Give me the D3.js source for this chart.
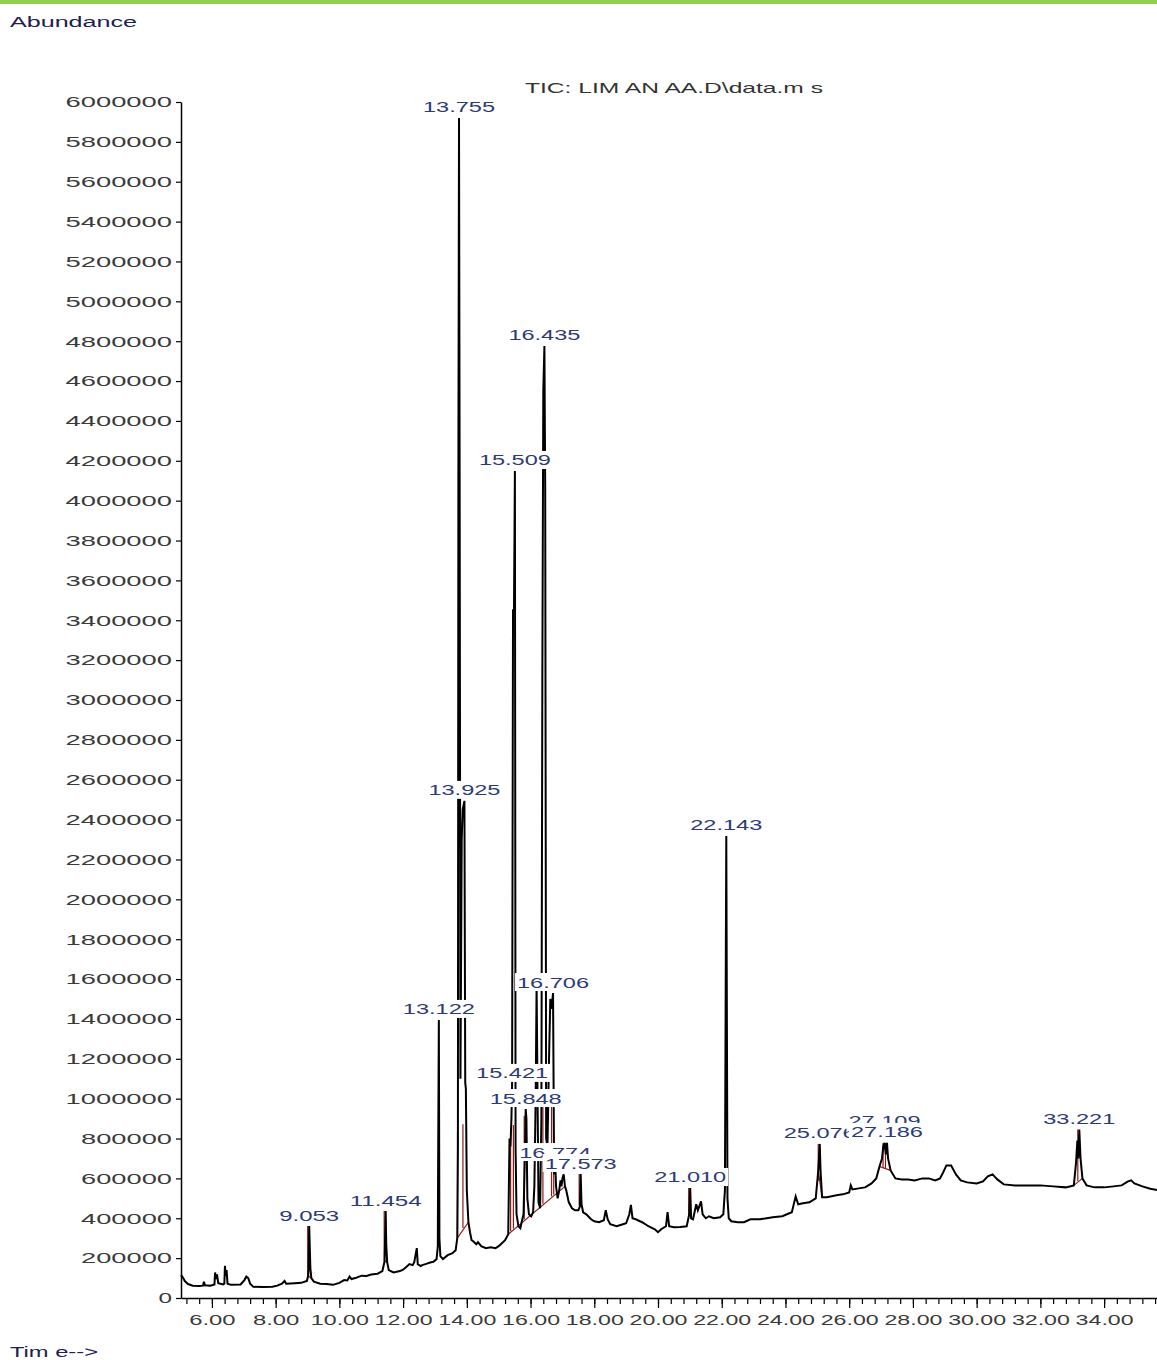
<!DOCTYPE html>
<html>
<head>
<meta charset="utf-8">
<script src="https://cdn.jsdelivr.net/npm/d3@7"></script>
<style>
  html, body { margin: 0; padding: 0; background: #fff; }
  svg { display: block; }
  text { font-family: "Liberation Sans", Arial, sans-serif; }
</style>
</head>
<body>
<svg id="chart" width="1157" height="1360"></svg>
<script>
// Total ion chromatogram: retention time (min) and abundance (counts)
const retentionTime = [
  5.03, 5.08, 5.15, 5.25, 5.4, 5.6, 5.72, 5.75, 5.78, 5.95, 6.08, 6.10, 6.13, 6.16, 6.2, 6.35, 6.39, 6.41, 6.43, 6.46, 6.49,
  6.6, 6.9, 7.02, 7.08, 7.14, 7.2, 7.3, 7.6, 7.9, 8.05, 8.2, 8.28, 8.33, 8.6, 8.8, 8.98,
  9.02, 9.035, 9.053, 9.07, 9.09, 9.12, 9.2, 9.4, 9.6, 9.8, 10.0, 10.15, 10.25, 10.32, 10.38, 10.5, 10.7, 10.85, 11.0, 11.2, 11.35,
  11.42, 11.454, 11.47, 11.5, 11.55, 11.7, 11.9, 12.0, 12.1, 12.2, 12.3, 12.35, 12.43, 12.46, 12.55, 12.6, 12.7, 12.85, 12.95, 13.05,
  13.09, 13.10, 13.122, 13.14, 13.17, 13.25, 13.4, 13.55, 13.65, 13.70,
  13.72, 13.735, 13.755, 13.775, 13.80, 13.84, 13.87, 13.925, 13.95, 13.97, 14.0, 14.05, 14.1, 14.15, 14.2, 14.3, 14.35, 14.45,
  14.6, 14.75, 14.9, 15.0, 15.1, 15.2, 15.30,
  15.34, 15.37, 15.40, 15.421, 15.45, 15.48, 15.509, 15.53, 15.56, 15.62, 15.68, 15.72, 15.78, 15.82, 15.848, 15.87, 15.9, 15.95,
  16.02, 16.08, 16.12, 16.16, 16.19, 16.22, 16.25, 16.30, 16.34, 16.37, 16.40, 16.435, 16.46, 16.49, 16.53, 16.58, 16.62, 16.66,
  16.706, 16.74, 16.774, 16.80, 16.85, 16.90, 16.94, 16.97, 17.0, 17.04, 17.08, 17.12, 17.2, 17.3, 17.4, 17.5, 17.55, 17.573,
  17.60, 17.65, 17.75, 17.9, 18.0, 18.15, 18.3, 18.36, 18.42, 18.5, 18.7, 18.9, 19.0, 19.1, 19.15, 19.2, 19.3, 19.5, 19.7, 19.9,
  20.0, 20.1, 20.25, 20.3, 20.35, 20.5, 20.7, 20.9, 20.98, 21.010, 21.04, 21.1, 21.2, 21.25, 21.35, 21.4, 21.5, 21.6, 21.75, 21.95,
  22.05, 22.10, 22.143, 22.18, 22.22, 22.3, 22.5, 22.7, 22.9, 23.2, 23.6, 23.9, 24.2, 24.32, 24.4, 24.55, 24.75, 24.95, 25.03,
  25.076, 25.10, 25.15, 25.3, 25.6, 25.8, 26.0, 26.05, 26.1, 26.3, 26.5, 26.7, 26.85, 26.95, 27.03, 27.07, 27.109, 27.15, 27.186,
  27.22, 27.3, 27.45, 27.65, 27.85, 28.05, 28.3, 28.5, 28.7, 28.85, 28.95, 29.05, 29.2, 29.35, 29.5, 29.7, 30.0, 30.2, 30.35, 30.5,
  30.65, 30.85, 31.2, 31.6, 32.0, 32.4, 32.8, 33.05, 33.12, 33.16, 33.19, 33.221, 33.26, 33.32, 33.45, 33.7, 34.0, 34.3, 34.55,
  34.75, 34.85, 34.95, 35.2, 35.45, 35.66
];
const abundance = [
  115000, 105000, 85000, 70000, 62000, 60000, 62000, 82000, 64000, 62000, 68000, 128000, 95000, 118000, 74000, 68000, 72000, 162000, 110000, 140000, 72000,
  66000, 68000, 90000, 108000, 100000, 72000, 56000, 55000, 56000, 62000, 72000, 86000, 72000, 74000, 76000, 85000,
  110000, 150000, 361000, 265000, 150000, 100000, 82000, 72000, 70000, 66000, 76000, 90000, 88000, 108000, 95000, 100000, 112000, 110000, 118000, 122000, 135000,
  185000, 436000, 275000, 180000, 140000, 128000, 135000, 142000, 155000, 170000, 165000, 180000, 250000, 170000, 160000, 165000, 170000, 178000, 182000, 195000,
  260000, 690000, 1395000, 300000, 210000, 195000, 215000, 225000, 240000, 300000,
  750000, 4100000, 5920000, 4100000, 1100000, 2300000, 2450000, 2494000, 1080000, 1050000, 540000, 380000, 330000, 290000, 285000, 270000, 280000, 260000,
  250000, 255000, 250000, 260000, 275000, 290000, 320000,
  800000, 760000, 900000, 1074000, 3450000, 3450000, 4149000, 750000, 420000, 360000, 350000, 380000, 420000, 700000, 948000, 900000, 500000, 420000,
  410000, 430000, 560000, 1000000, 1570000, 1000000, 480000, 450000, 900000, 3100000, 4550000, 4776000, 4050000, 800000, 760000, 1200000, 1500000, 1450000,
  1530000, 620000, 677000, 560000, 500000, 540000, 590000, 560000, 600000, 620000, 560000, 540000, 480000, 450000, 440000, 440000, 460000, 622000,
  470000, 430000, 420000, 395000, 385000, 380000, 390000, 440000, 395000, 370000, 360000, 370000, 375000, 420000, 467000, 400000, 395000, 380000, 360000, 345000,
  330000, 345000, 360000, 431000, 360000, 355000, 356000, 360000, 420000, 552000, 400000, 395000, 470000, 440000, 485000, 420000, 400000, 410000, 400000, 405000,
  420000, 540000, 2318000, 500000, 400000, 385000, 380000, 380000, 395000, 395000, 405000, 410000, 430000, 510000, 470000, 475000, 480000, 500000, 640000,
  773000, 640000, 505000, 505000, 515000, 520000, 530000, 565000, 545000, 550000, 555000, 575000, 600000, 660000, 700000, 760000, 778000, 720000, 778000,
  700000, 640000, 600000, 595000, 595000, 590000, 600000, 600000, 590000, 600000, 630000, 665000, 665000, 620000, 590000, 580000, 575000, 585000, 610000, 620000,
  595000, 570000, 565000, 565000, 565000, 560000, 555000, 565000, 680000, 790000, 700000, 845000, 700000, 600000, 565000, 555000, 555000, 560000, 565000,
  585000, 590000, 575000, 560000, 548000, 542000
];

// Labelled peaks (apex retention times)
const peakLabels = ["9.053", "11.454", "13.122", "13.755", "13.925", "15.421", "15.509", "15.848", "16.435",
  "16.706", "16.774", "17.573", "21.010", "22.143", "25.076", "27.109", "27.186", "33.221"];

// Integration windows [start, end] in minutes
const integrationStart = [9.02, 11.42, 13.70, 15.30, 17.55, 20.98, 25.03, 26.95, 33.05];
const integrationEnd   = [9.12, 11.50, 14.05, 17.08, 17.60, 21.04, 25.15, 27.30, 33.32];

// Axis ticks
const yTicks = d3.range(0, 6000001, 200000);
const xMajorTicks = d3.range(6, 34.001, 2);
const xMinorTicks = d3.range(5.2, 35.66, 0.4);
const title = "TIC: LIM AN AA.D\\data.m s";

const svg = d3.select("#chart");
const W = 1157;

const x = d3.scaleLinear().domain([5.03, 35.66]).range([181, 1157]);
const y = d3.scaleLinear().domain([0, 6000000]).range([1298, 102]);

const data = retentionTime.map((t, i) => ({ t, a: abundance[i] }));
const valueAt = t => {
  const i = d3.bisector(d => d.t).left(data, t);
  if (i <= 0) return data[0].a;
  if (i >= data.length) return data[data.length - 1].a;
  const p = data[i - 1], q = data[i];
  return p.a + (q.a - p.a) * (t - p.t) / (q.t - p.t);
};

// green strip along the top edge
svg.append("rect").attr("x", 0).attr("y", 0).attr("width", W).attr("height", 4).attr("fill", "#8fd14f");

const labelInk = "#2c3a78";
const axisInk = "#3a3a3a";

svg.append("text").attr("x", 10).attr("y", 27)
  .attr("font-size", 14).attr("fill", "#1e2050")
  .attr("textLength", 127).attr("lengthAdjust", "spacingAndGlyphs")
  .text("Abundance");

svg.append("text").attr("x", 10).attr("y", 1357)
  .attr("font-size", 14).attr("fill", "#1e2050")
  .attr("textLength", 88).attr("lengthAdjust", "spacingAndGlyphs")
  .text("Tim e-->");

svg.append("text").attr("x", 674).attr("y", 93)
  .attr("text-anchor", "middle").attr("font-size", 15).attr("fill", "#333")
  .attr("textLength", 298).attr("lengthAdjust", "spacingAndGlyphs")
  .text(title);

// Y axis
const yAxis = svg.append("g").attr("transform", "translate(181,0)")
  .call(d3.axisLeft(y).tickValues(yTicks).tickSize(5).tickSizeOuter(0).tickPadding(4).tickFormat(d3.format("d")));
yAxis.select(".domain").attr("stroke", "#000").attr("stroke-width", 1.5);
yAxis.selectAll(".tick line").attr("stroke", "#000").attr("stroke-width", 1.2);
yAxis.selectAll(".tick text")
  .attr("font-size", 15).attr("fill", axisInk).attr("font-family", "Liberation Sans, Arial, sans-serif")
  .attr("lengthAdjust", "spacingAndGlyphs")
  .attr("textLength", function () { return this.textContent.length * 15.5 - 2; });

// X axis: minor then major ticks
const xMinor = svg.append("g").attr("transform", "translate(0,1298)")
  .call(d3.axisBottom(x).tickValues(xMinorTicks).tickSize(6).tickSizeOuter(0).tickFormat(""));
xMinor.selectAll(".tick line").attr("stroke", "#000").attr("stroke-width", 1.2);
xMinor.select(".domain").attr("stroke", "#000").attr("stroke-width", 1.5);

const xMajor = svg.append("g").attr("transform", "translate(0,1298)")
  .call(d3.axisBottom(x).tickValues(xMajorTicks).tickSize(10).tickSizeOuter(0).tickPadding(6).tickFormat(d3.format(".2f")));
xMajor.select(".domain").remove();
xMajor.selectAll(".tick line").attr("stroke", "#000").attr("stroke-width", 1.2);
xMajor.selectAll(".tick text")
  .attr("font-size", 15).attr("fill", axisInk).attr("font-family", "Liberation Sans, Arial, sans-serif")
  .attr("lengthAdjust", "spacingAndGlyphs")
  .attr("textLength", function () { return this.textContent.length * 11.6; });

// integration baselines and drop lines
const integ = svg.append("g").attr("stroke", "#8a1c1c").attr("stroke-width", 1.2).attr("fill", "none");
integrationStart.forEach((s, i) => {
  const e = integrationEnd[i];
  const as = valueAt(s), ae = valueAt(e);
  integ.append("line").attr("x1", x(s)).attr("y1", y(as)).attr("x2", x(e)).attr("y2", y(ae));
  // drop lines under each peak apex inside the window
  peakLabels.map(Number).filter(p => p > s && p < e).forEach(p => {
    const base = as + (ae - as) * (p - s) / (e - s);
    const top = Math.min(valueAt(p), base + 520000);
    integ.append("line").attr("x1", x(p) - 1.5).attr("x2", x(p) - 1.5)
      .attr("y1", y(base)).attr("y2", y(Math.max(base, top)));
  });
});

// chromatogram trace
svg.append("path").datum(data)
  .attr("fill", "none").attr("stroke", "#000").attr("stroke-width", 2).attr("stroke-linejoin", "miter")
  .attr("d", d3.line().x(d => x(d.t)).y(d => y(d.a)));

// peak labels: place right-to-left, lift nearly coincident ones, draw left-to-right
const placed = [];
const labelPos = {};
peakLabels.slice().reverse().forEach(lbl => {
  const t = +lbl;
  const px = x(t);
  let cy = y(valueAt(t)) - 11;
  placed.forEach(p => {
    if (Math.abs(p.px - px) < 8 && Math.abs(p.cy - cy) < 14) cy = p.cy - 11;
  });
  placed.push({ px, cy });
  labelPos[lbl] = { px, cy };
});
const labels = svg.append("g");
peakLabels.forEach(lbl => {
  const { px, cy } = labelPos[lbl];
  const w = lbl.length * 12;
  const g = labels.append("g");
  g.append("rect").attr("x", px - w / 2 - 2).attr("y", cy - 9).attr("width", w + 4).attr("height", 18).attr("fill", "#fff");
  g.append("text").attr("x", px).attr("y", cy + 5.5).attr("text-anchor", "middle")
    .attr("font-size", 15).attr("fill", labelInk)
    .attr("textLength", w).attr("lengthAdjust", "spacingAndGlyphs")
    .text(lbl);
});
</script>
</body>
</html>
